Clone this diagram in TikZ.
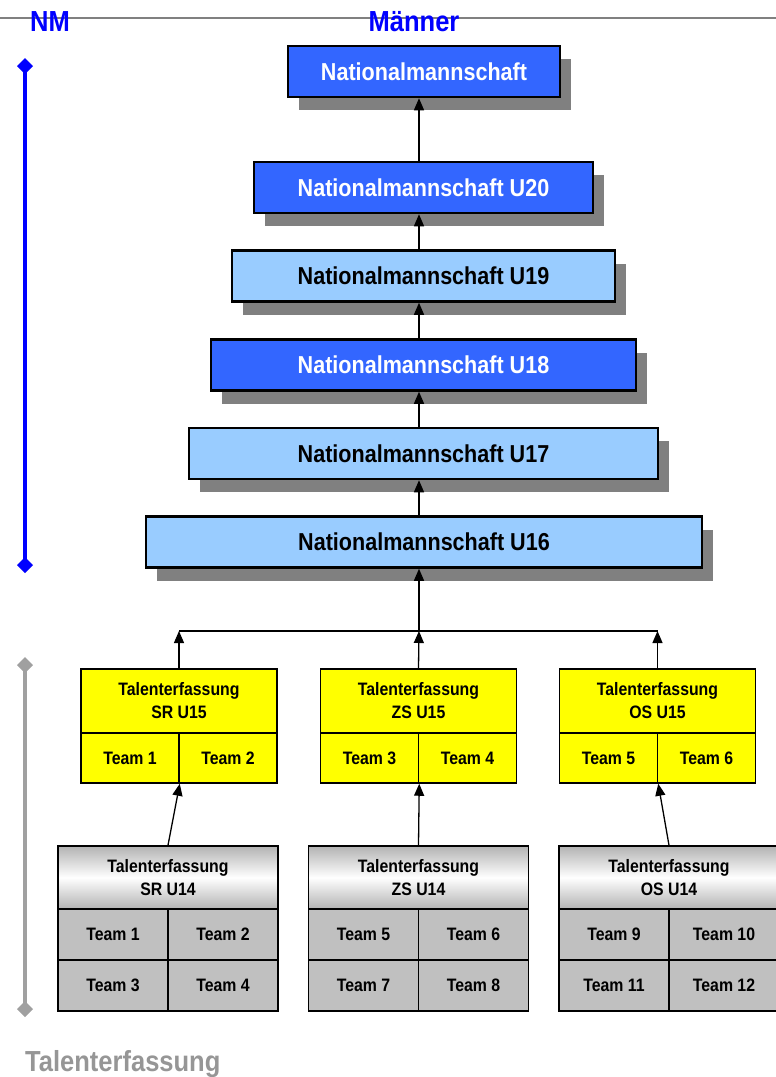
\documentclass[tikz,border=0pt]{standalone}
\usepackage{fontspec}
\setmainfont{Liberation Sans}[FakeStretch=0.88]
\usetikzlibrary{arrows.meta,shadows}
\definecolor{natdark}{RGB}{51,102,255}
\definecolor{natlight}{RGB}{153,204,255}
\definecolor{shadowgray}{RGB}{128,128,128}
\definecolor{headblue}{RGB}{0,0,255}
\definecolor{talgray}{RGB}{160,160,160}
\definecolor{talfont}{RGB}{150,150,150}
\definecolor{teamgray}{RGB}{192,192,192}
\definecolor{talyellow}{RGB}{255,255,0}

\begin{document}
\begin{tikzpicture}[x=1pt,y=-1pt,font=\bfseries,
    >={Triangle[length=12pt,width=10pt]},
    natbox/.style={draw,line width=2.5pt,minimum height=51pt,inner sep=0pt,
        font=\fontsize{24.5}{28}\selectfont\bfseries,
        general shadow={fill=shadowgray,shadow xshift=11pt,shadow yshift=-13pt}},
    darkbox/.style={natbox,fill=natdark,text=white},
    lightbox/.style={natbox,fill=natlight},
    cell/.style={draw,line width=1.5pt,inner sep=0pt,align=center,
        font=\fontsize{18}{23}\selectfont\bfseries},
    u15head/.style={cell,fill=talyellow,minimum width=196pt,minimum height=64pt},
    u15team/.style={cell,fill=talyellow,minimum width=98pt,minimum height=50pt},
    u14head/.style={cell,top color=gray!60,bottom color=gray!60,middle color=white,
        minimum width=220pt,minimum height=63pt},
    u14team/.style={cell,fill=teamgray,minimum width=110pt,minimum height=51pt},
    arr/.style={->,line width=1.3pt},
    bar/.style={line width=4pt,{Diamond[length=16pt,width=16pt]}-{Diamond[length=16pt,width=16pt]}}]
    \useasboundingbox (0,0) rectangle (776,1077);
    % header
    \coordinate (lineL) at (0,18);
    \coordinate (lineR) at (776,18);
    \draw[shadowgray,line width=1.5pt] (lineL) -- (lineR);
    \node[text=headblue,font=\fontsize{29}{32}\selectfont\bfseries,anchor=base] (nm) at (50,31) {NM};
    \node[text=headblue,font=\fontsize{29}{32}\selectfont\bfseries,anchor=base] (maenner) at (414,31) {Männer};
    % national teams
    \node[darkbox,minimum width=272pt] (nat) at (424,71.5) {Nationalmannschaft};
    \node[darkbox,minimum width=339pt] (u20) at (423.5,187.5) {Nationalmannschaft U20};
    \node[lightbox,minimum width=383pt] (u19) at (423.5,276) {Nationalmannschaft U19};
    \node[darkbox,minimum width=425pt] (u18) at (423.5,365) {Nationalmannschaft U18};
    \node[lightbox,minimum width=469pt] (u17) at (423.5,453.5) {Nationalmannschaft U17};
    \node[lightbox,minimum width=556pt] (u16) at (424,542) {Nationalmannschaft U16};
    % U15
    \node[u15head] (sr15) at (179,701) {Talenterfassung\\SR U15};
    \node[u15team] (sr15a) at (130,758) {Team 1};
    \node[u15team] (sr15b) at (228,758) {Team 2};
    \node[u15head] (zs15) at (418.5,701) {Talenterfassung\\ZS U15};
    \node[u15team] (zs15a) at (369.5,758) {Team 3};
    \node[u15team] (zs15b) at (467.5,758) {Team 4};
    \node[u15head] (os15) at (657.5,701) {Talenterfassung\\OS U15};
    \node[u15team] (os15a) at (608.5,758) {Team 5};
    \node[u15team] (os15b) at (706.5,758) {Team 6};
    % U14
    \node[u14head] (sr14) at (168,877.5) {Talenterfassung\\SR U14};
    \node[u14team] (sr14a) at (113,934.5) {Team 1};
    \node[u14team] (sr14b) at (223,934.5) {Team 2};
    \node[u14team] (sr14c) at (113,985.5) {Team 3};
    \node[u14team] (sr14d) at (223,985.5) {Team 4};
    \node[u14head] (zs14) at (418.5,877.5) {Talenterfassung\\ZS U14};
    \node[u14team] (zs14a) at (363.5,934.5) {Team 5};
    \node[u14team] (zs14b) at (473.5,934.5) {Team 6};
    \node[u14team] (zs14c) at (363.5,985.5) {Team 7};
    \node[u14team] (zs14d) at (473.5,985.5) {Team 8};
    \node[u14head] (os14) at (669,877.5) {Talenterfassung\\OS U14};
    \node[u14team] (os14a) at (614,934.5) {Team 9};
    \node[u14team] (os14b) at (724,934.5) {Team 10};
    \node[u14team] (os14c) at (614,985.5) {Team 11};
    \node[u14team] (os14d) at (724,985.5) {Team 12};
    % arrows
    \coordinate (axis) at (419,0);
    \coordinate (split) at (419,631);
    \draw[arr] (u20.north -| axis) -- (nat.south -| axis);
    \draw[arr] (u19.north -| axis) -- (u20.south -| axis);
    \draw[arr] (u18.north -| axis) -- (u19.south -| axis);
    \draw[arr] (u17.north -| axis) -- (u18.south -| axis);
    \draw[arr] (u16.north -| axis) -- (u17.south -| axis);
    \draw[arr] (split) -- (u16.south -| axis);
    \draw[line width=1.3pt] (sr15.north |- split) -- (os15.north |- split);
    \draw[arr] (sr15.north) -- (sr15.north |- split);
    \draw[arr] (zs15.north) -- (split);
    \draw[arr] (os15.north) -- (os15.north |- split);
    \draw[arr] (sr14.north) -- (sr15a.south east);
    \draw[arr] (zs14.north) -- (zs15a.south east);
    \draw[arr] (os14.north) -- (os15a.south east);
    % side bars
    \coordinate (nmtop) at (25,58);
    \coordinate (nmbot) at (25,573);
    \coordinate (taltop) at (25,657);
    \coordinate (talbot) at (25,1017);
    \draw[bar,headblue] (nmtop) -- (nmbot);
    \draw[bar,talgray] (taltop) -- (talbot);
    \node[text=talfont,font=\fontsize{29}{32}\selectfont\bfseries,anchor=base west,inner sep=0pt] (tal) at (25,1071) {Talenterfassung};
\end{tikzpicture}
\end{document}
